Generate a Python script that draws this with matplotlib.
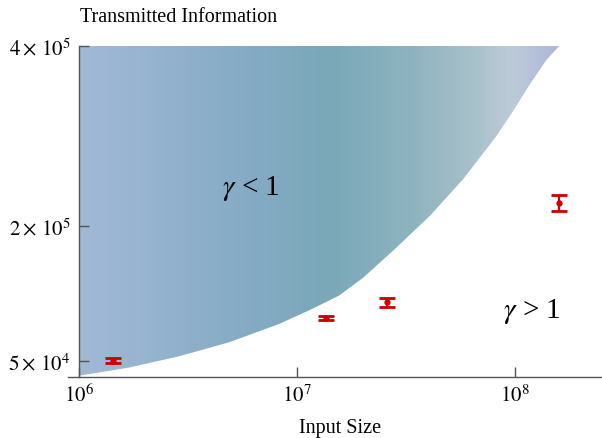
import numpy as np
import matplotlib
matplotlib.use("Agg")
import matplotlib.pyplot as plt
from matplotlib.colors import LinearSegmentedColormap
from matplotlib.patches import Polygon

plt.rcParams['font.family'] = ['Liberation Serif', 'DejaVu Serif']
plt.rcParams['mathtext.fontset'] = 'stix'

# boundary curve (gamma = 1)
curve_x = [1.0e6, 1.696e6, 2.875e6, 4.88e6, 8.27e6, 1.172e7, 1.558e7, 2.015e7,
           2.867e7, 4.075e7, 5.79e7, 6.91e7, 8.24e7, 9.82e7, 1.172e8, 1.398e8, 1.597e8]
curve_y = [33450, 42500, 55000, 70600, 90900, 107600, 122500, 142500,
           176200, 211300, 252100, 276200, 300300, 328000, 357700, 385000, 400000]

# measurements
pts_x = [1.43e6, 1.36e7, 2.58e7, 1.59e8]
pts_y = [50100, 97900, 115000, 225200]
pts_err = [2600, 2200, 5100, 8900]

yticks = [5e4, 2e5, 4e5]
ytick_labels = [r'$5\times\,10^4$', r'$2\times\,10^5$', r'$4\times\,10^5$']
xticks = [1e6, 1e7, 1e8]
xtick_labels = [r'$10^6$', r'$10^7$', r'$10^8$']

# gradient colours across the axes width
grad_pos = [0.0, 0.021, 0.333, 0.489, 0.644, 0.770, 0.831, 0.906, 1.0]
grad_col = ['#a3bad7', '#a2b9d6', '#85abc5', '#7aa8b8', '#8db3bf', '#aac2cb',
            '#bccbd8', '#b0b9db', '#b0b9db']

fig = plt.figure(figsize=(6.02, 4.39), dpi=100)
ax = fig.add_axes([68 / 602, 1 - 378 / 439, 534 / 602, (378 - 47) / 439])
ax.set_xscale('log')
ax.set_xlim(10 ** (6 - 11 / 218), 10 ** (6 + 523 / 218))
ax.set_ylim(32000, 400000)

cmap = LinearSegmentedColormap.from_list('g', list(zip(grad_pos, grad_col)))
grad = np.linspace(0, 1, 600).reshape(1, -1)
im = ax.imshow(grad, cmap=cmap, aspect='auto', extent=[0, 1, 0, 1],
               transform=ax.transAxes, zorder=1)
poly_pts = list(zip(curve_x, curve_y)) + [(curve_x[-1], 400000), (curve_x[0], 400000)]
patch = Polygon(poly_pts, closed=True, facecolor='none', edgecolor='none',
                transform=ax.transData)
ax.add_patch(patch)
im.set_clip_path(patch)

ax.errorbar(pts_x, pts_y, yerr=pts_err, fmt='o', color='#cc0000', ms=3.5,
            elinewidth=1.6, capsize=6, capthick=2, zorder=3)

for s in ['top', 'right']:
    ax.spines[s].set_visible(False)
ax.spines['left'].set_position(('data', 1e6))
for s in ['left', 'bottom']:
    ax.spines[s].set_color('#555555')
    ax.spines[s].set_linewidth(1.0)

ax.set_yticks(yticks)
ax.set_yticklabels(ytick_labels)
ax.set_xticks(xticks)
ax.set_xticklabels(xtick_labels)
ax.minorticks_off()
ax.tick_params(axis='both', direction='in', length=7, color='#555555',
               labelsize=15, width=1.0)
ax.tick_params(axis='y', pad=6)
ax.tick_params(axis='x', pad=5)

ax.text(4.53e6, 243000, r'$\gamma$ < 1', fontsize=21, ha='left', va='center', zorder=4)
ax.text(8.8e7, 105400, r'$\gamma$ > 1', fontsize=21, ha='left', va='center', zorder=4)

fig.text(80 / 602, 1 - 18 / 439, 'Transmitted Information', fontsize=14.5,
         ha='left', va='center')
fig.text(340 / 602, 1 - 429 / 439, 'Input Size', fontsize=14.5,
         ha='center', va='center')

fig.savefig('out.png', dpi=100)
